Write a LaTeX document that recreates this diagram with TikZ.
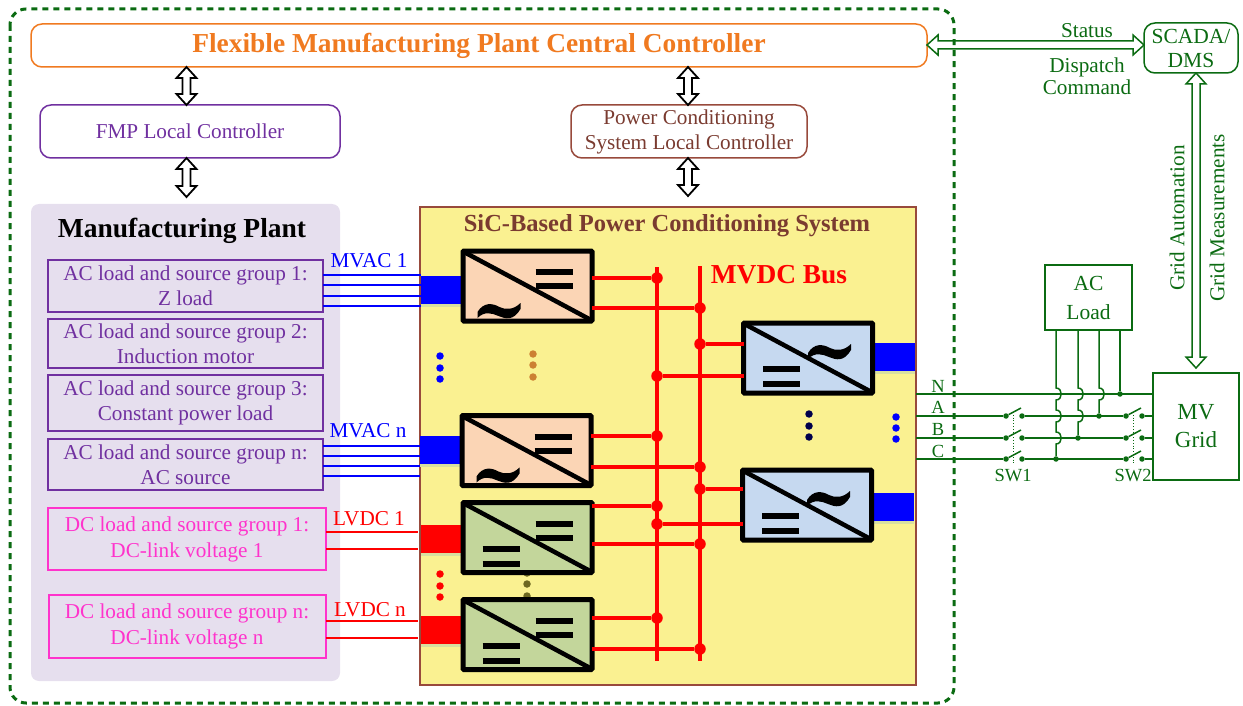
\documentclass[tikz,border=0pt]{standalone}
\usepackage{fontspec}
\setmainfont{Liberation Serif}
\usetikzlibrary{calc,positioning}
\definecolor{plantfill}{HTML}{E6DFEE}
\definecolor{pcsfill}{HTML}{FAF191}
\definecolor{pcsline}{HTML}{984A3C}
\definecolor{acfill}{HTML}{FBD5B5}
\definecolor{dcfill}{HTML}{C3D69B}
\definecolor{blfill}{HTML}{C6D9F0}
\definecolor{gridgreen}{HTML}{0B6B12}
\definecolor{fmppurple}{HTML}{7030A0}
\definecolor{dcpink}{HTML}{FF33CC}
\definecolor{ctrlorange}{HTML}{F07A20}
\definecolor{shadowtone}{HTML}{D8DFA0}
\tikzset{
  txt/.style={font=\fontsize{21.2}{25}\selectfont,align=center},
  loadbox/.style={draw,line width=2pt,minimum width=275pt,txt,inner sep=0pt,outer sep=0pt},
  ctrlbox/.style={draw,line width=1.5pt,rounded corners=11pt,txt,inner sep=0pt,outer sep=0pt},
  gridbox/.style={draw=gridgreen,line width=1.5pt,text=gridgreen,inner sep=0pt,outer sep=0pt,align=center},
  conv/.style={draw=black,line width=5pt,minimum width=129pt,minimum height=70pt,inner sep=0pt,outer sep=0pt,rounded corners=1pt},
  powerblock/.style={minimum width=40pt,minimum height=28pt,inner sep=0pt,outer sep=0pt,preaction={fill=shadowtone,transform canvas={yshift=-3pt}}},
  dotmark/.style={circle,inner sep=0pt,minimum size=7.5pt},
  busdot/.style={circle,fill=red,inner sep=0pt,minimum size=11.5pt},
  hopdot/.style={circle,fill=red,inner sep=0pt,minimum size=5.5pt},
  contact/.style={circle,fill=gridgreen,inner sep=0pt,minimum size=5.5pt},
  buswire/.style={red,line width=4pt},
  barline/.style={line width=6pt},
  gridline/.style={gridgreen,line width=1.5pt},
  gridtxt/.style={font=\fontsize{21.2}{25}\selectfont,text=gridgreen,align=center},
  ftag/.style={font=\fontsize{18.5}{20}\selectfont,text=gridgreen,inner sep=0pt},
  hollow/.style={line width=1.8pt,line join=miter,to path={
    -- ($(\tikztostart)!11pt!(\tikztotarget)!10pt!90:(\tikztotarget)$)
    -- ($(\tikztostart)!11pt!(\tikztotarget)!4pt!90:(\tikztotarget)$)
    -- ($(\tikztotarget)!11pt!(\tikztostart)!4pt!-90:(\tikztostart)$)
    -- ($(\tikztotarget)!11pt!(\tikztostart)!10pt!-90:(\tikztostart)$)
    -- (\tikztotarget)
    -- ($(\tikztotarget)!11pt!(\tikztostart)!10pt!90:(\tikztostart)$)
    -- ($(\tikztotarget)!11pt!(\tikztostart)!4pt!90:(\tikztostart)$)
    -- ($(\tikztostart)!11pt!(\tikztotarget)!4pt!-90:(\tikztotarget)$)
    -- ($(\tikztostart)!11pt!(\tikztotarget)!10pt!-90:(\tikztotarget)$)
    -- cycle}},
  tilde/.pic={\fill (0,1) -- (0,-5) .. controls (6,-15) and (15,-14) .. (22,-10) .. controls (28,-7) and (36,-7) .. (43,-14) -- (43,-8) .. controls (36,4) and (28,2) .. (21,-1) .. controls (14,-4) and (7,-6) .. (0,1) -- cycle;}
}
\newcommand{\hopover}[2]{-- (#1,#2-6) .. controls (#1+7,#2-6) and (#1+7,#2+6) .. (#1,#2+6)}
\begin{document}
\begin{tikzpicture}[x=1pt,y=-1pt,node distance=58pt,on grid]
\useasboundingbox (0,0) rectangle (1243,706);
\draw[gridgreen,line width=3pt,dash pattern=on 6pt off 5pt,rounded corners=16pt] (10,9) rectangle (954,703);
% controllers
\node[ctrlbox,draw=ctrlorange,minimum width=896pt,minimum height=43pt,text=ctrlorange,font=\fontsize{27.4}{30}\selectfont\bfseries] (ctrl) at (479,45.5) {Flexible Manufacturing Plant Central Controller};
\node[ctrlbox,draw=fmppurple,minimum width=300pt,minimum height=53pt,text=fmppurple] (fmplc) at (190,131.5) {FMP Local Controller};
\node[ctrlbox,draw=pcsline,minimum width=236pt,minimum height=53pt,text=pcsline!80!black] (pcslc) at (689,131.5) {Power Conditioning\\System Local Controller};
% plant side
\node[fill=plantfill,rounded corners=8pt,minimum width=309pt,minimum height=477pt,inner sep=0pt,outer sep=0pt] (plant) at (185.5,442.5) {};
\node[font=\fontsize{27.5}{30}\selectfont\bfseries] (plantlbl) at (182,230.5) {Manufacturing Plant};
\node[loadbox,draw=fmppurple,text=fmppurple,minimum height=52pt] (g1) at (185.5,285.5) {AC load and source group 1:\\Z load};
\node[loadbox,draw=fmppurple,text=fmppurple,minimum height=49pt,below=58pt of g1] (g2) {AC load and source group 2:\\Induction motor};
\node[loadbox,draw=fmppurple,text=fmppurple,minimum height=56pt,below=59.5pt of g2] (g3) {AC load and source group 3:\\Constant power load};
\node[loadbox,draw=fmppurple,text=fmppurple,minimum height=51pt,below=61.5pt of g3] (g4) {AC load and source group n:\\AC source};
\node[loadbox,draw=dcpink,text=dcpink,minimum width=278pt,minimum height=62pt,font=\fontsize{21.2}{26}\selectfont] (g5) at (187,539) {DC load and source group 1:\\DC-link voltage 1};
\node[loadbox,draw=dcpink,text=dcpink,minimum width=277pt,minimum height=63pt,font=\fontsize{21.2}{26}\selectfont,below=87.5pt of g5] (g6) {DC load and source group n:\\DC-link voltage n};
% power conditioning system
\node[draw=pcsline,fill=pcsfill,line width=1.5pt,minimum width=496pt,minimum height=478pt,inner sep=0pt,outer sep=0pt] (pcs) at (668,446) {};
\node[font=\fontsize{24.5}{26}\selectfont\bfseries,text=pcsline!80!black] (pcslbl) at (667,225.5) {SiC-Based Power Conditioning System};
\node[font=\fontsize{27.4}{30}\selectfont\bfseries,text=red] (mvdc) at (779,275) {MVDC Bus};
\foreach \n/\x/\y/\c in {a1/440/356/blue,a2/440/368/blue,a3/440/379/blue,
  b1/533/354/brown!80!orange,b2/533/365/brown!80!orange,b3/533/377/brown!80!orange,
  c1/440/574/red,c2/440/586/red,c3/440/597/red,
  d1/527/573/olive!70!black,d2/527/584/olive!70!black,d3/527/596/olive!70!black,
  e1/809/414/blue!30!black,e2/809/426/blue!30!black,e3/809/437/blue!30!black,
  f1/896/417/blue,f2/896/428/blue,f3/896/439/blue}
  \node[dotmark,fill=\c] (\n) at (\x,\y) {};
\node[powerblock,fill=blue] (blk1) at (441,289.5) {};
\node[powerblock,fill=blue] (blk2) at (439.5,450) {};
\node[powerblock,fill=red] (blk3) at (441,539) {};
\node[powerblock,fill=red] (blk4) at (441,630) {};
\node[powerblock,fill=blue] (blk5) at (895,357) {};
\node[powerblock,fill=blue] (blk6) at (893.5,507) {};
\node[conv,fill=acfill] (acdc1) at (527.5,286) {};
\node[conv,fill=acfill] (acdc2) at (526.5,450.5) {};
\node[conv,fill=dcfill] (dcdc1) at (527.5,537.5) {};
\node[conv,fill=dcfill] (dcdc2) at (527.5,634.5) {};
\node[conv,fill=blfill] (dcac1) at (808,358) {};
\node[conv,fill=blfill] (dcac2) at (807,505) {};
\foreach \n in {acdc1,acdc2,dcdc1,dcdc2,dcac1,dcac2}
  \draw[line width=4.5pt] ($(\n.north west)+(1,1)$) -- ($(\n.south east)+(-1,-1)$);
\foreach \n in {acdc1,acdc2,dcdc1,dcdc2} {
  \draw[barline] ($(\n.center)+(8,-14)$) -- +(37,0);
  \draw[barline] ($(\n.center)+(8,0)$) -- +(37,0);
}
\foreach \n in {dcdc1,dcdc2,dcac1,dcac2} {
  \draw[barline] ($(\n.center)+(-45,11)$) -- +(37,0);
  \draw[barline] ($(\n.center)+(-45,26)$) -- +(37,0);
}
\foreach \n in {acdc1,acdc2}
  \pic at ($(\n.center)+(-50,31)$) {tilde};
\foreach \n in {dcac1,dcac2}
  \pic at ($(\n.center)+(0,0)$) {tilde};
% MVDC bus
\coordinate (bus1top) at (657,267);
\coordinate (bus1bot) at (657,661);
\coordinate (bus2top) at (700,266);
\coordinate (bus2bot) at (700,661);
\foreach \j/\x/\y/\c in {j1/657/278/acdc1,j2/700/308/acdc1,j3/657/436/acdc2,j4/700/467/acdc2,
  j5/657/506/dcdc1,j6/700/544/dcdc1,j7/657/618/dcdc2,j8/700/649/dcdc2} {
  \node[busdot] (\j) at (\x,\y) {};
  \draw[buswire] (\c.east |- \j) -- (\j);
}
\foreach \j/\x/\y/\c in {j9/700/344/dcac1,j10/657/376/dcac1,j11/700/489/dcac2,j12/657/524/dcac2} {
  \node[busdot] (\j) at (\x,\y) {};
  \draw[buswire] (\j) -- (\c.west |- \j);
}
\draw[buswire] (bus1top) -- (bus1bot);
\draw[buswire] (bus2top) -- (bus2bot);
\foreach \n/\x/\y in {h1/657/308,h2/657/467,h3/657/544,h4/657/649,h5/700/376,h6/700/524}
  \node[hopdot] (\n) at (\x,\y) {};
% plant feeders
\foreach \y in {275,285,296,306}
  \draw[blue,line width=1.2pt] (g1.east |- 0,\y) -- (blk1.west |- 0,\y);
\foreach \y in {446,456,466,476}
  \draw[blue,line width=1.2pt] (g4.east |- 0,\y) -- (blk2.west |- 0,\y);
\foreach \y in {532,549}
  \draw[red,line width=1.2pt] (g5.east |- 0,\y) -- (418,\y);
\foreach \y in {621,638}
  \draw[red,line width=1.2pt] (g6.east |- 0,\y) -- (418,\y);
\node[txt,text=blue] (mvac1) at (369,261) {MVAC 1};
\node[txt,text=blue] (mvacn) at (368,431) {MVAC n};
\node[txt,text=red] (lvdc1) at (369,519) {LVDC 1};
\node[txt,text=red] (lvdcn) at (370,610) {LVDC n};
% control arrows
\coordinate (fmpaxis) at (186.5,0);
\coordinate (pcsaxis) at (688,0);
\coordinate (fmpend) at (186.5,197);
\coordinate (pcsend) at (688,196);
\draw[hollow] (ctrl.south -| fmpaxis) to (fmplc.north -| fmpaxis);
\draw[hollow] (fmplc.south -| fmpaxis) to (fmpend);
\draw[hollow] (ctrl.south -| pcsaxis) to (pcslc.north -| pcsaxis);
\draw[hollow] (pcslc.south -| pcsaxis) to (pcsend);
% grid side
\node[gridbox,rounded corners=11pt,minimum width=94pt,minimum height=50pt,font=\fontsize{21.5}{24}\selectfont] (scada) at (1191,48) {SCADA/\\DMS};
\node[gridbox,minimum width=87pt,minimum height=65pt,font=\fontsize{21.5}{29}\selectfont] (acload) at (1088.5,297.5) {AC\\Load};
\node[gridbox,minimum width=86pt,minimum height=107pt,font=\fontsize{23}{28}\selectfont] (mvgrid) at (1196,426.5) {MV\\Grid};
\coordinate (mvend) at (1196,368);
\draw[hollow,gridgreen,line width=1.5pt] (ctrl.east |- 0,45) to (scada.west |- 0,45);
\draw[hollow,gridgreen,line width=1.5pt] (scada.south -| mvend) to (mvend);
\node[gridtxt] (statuslbl) at (1087,31) {Status};
\node[gridtxt,font=\fontsize{21.2}{22}\selectfont] (dispatchlbl) at (1087,76) {Dispatch\\Command};
\node[gridtxt,rotate=90] (autolbl) at (1177,218) {Grid Automation};
\node[gridtxt,rotate=90] (measlbl) at (1217,218) {Grid Measurements};
\node[ftag] (nlbl) at (938,386) {N};
\node[ftag] (albl) at (938,407) {A};
\node[ftag] (blbl) at (938,429) {B};
\node[ftag] (clbl) at (938,451) {C};
\draw[gridline] (pcs.east |- 0,394) -- (mvgrid.west |- 0,394);
\foreach \p/\y in {A/416,B/438,C/459} {
  \node[contact] (sa\p) at (1006,\y) {};
  \node[contact] (sb\p) at (1022,\y) {};
  \node[contact] (sc\p) at (1126,\y) {};
  \node[contact] (sd\p) at (1142,\y) {};
  \draw[gridline] (pcs.east |- sa\p) -- (sa\p);
  \draw[gridline] (sb\p) -- (sc\p);
  \draw[gridline] (sd\p) -- (mvgrid.west |- sd\p);
  \draw[gridline] (sa\p) -- +(15,-8);
  \draw[gridline] (sc\p) -- +(15,-8);
}
\draw[gridgreen,dotted,line width=.8pt] (1013,412) -- (1013,464);
\draw[gridgreen,dotted,line width=.8pt] (1133,412) -- (1133,464);
\node[ftag] (swlbl1) at (1013,476) {SW1};
\node[ftag] (swlbl2) at (1133,476) {SW2};
\node[contact] (l1) at (1056,459) {};
\node[contact] (l2) at (1078,438) {};
\node[contact] (l3) at (1099,416) {};
\node[contact] (l4) at (1120,394) {};
\draw[gridline] (acload.south -| l1) \hopover{1056}{394} \hopover{1056}{416} \hopover{1056}{438} -- (l1);
\draw[gridline] (acload.south -| l2) \hopover{1078}{394} \hopover{1078}{416} -- (l2);
\draw[gridline] (acload.south -| l3) \hopover{1099}{394} -- (l3);
\draw[gridline] (acload.south -| l4) -- (l4);
\end{tikzpicture}
\end{document}
